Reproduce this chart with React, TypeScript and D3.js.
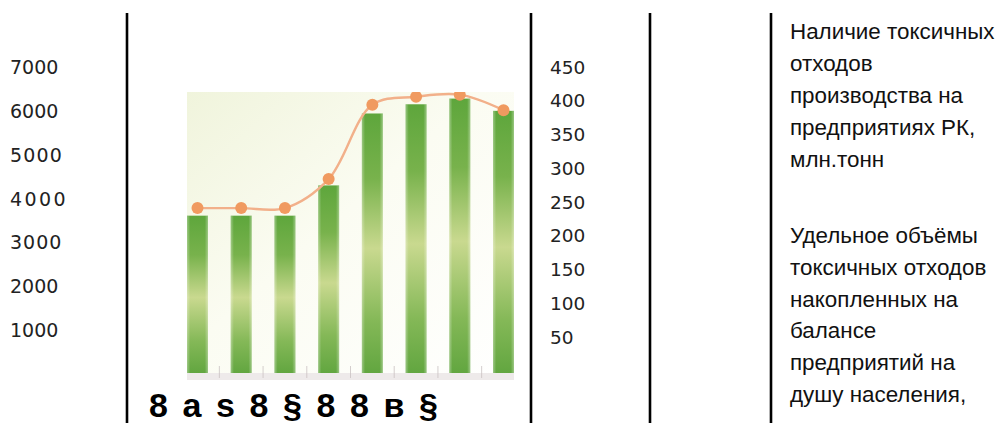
import React from 'react';
import * as d3 from 'd3';

// ---- data ----
const categories = ['c1', 'c2', 'c3', 'c4', 'c5', 'c6', 'c7', 'c8'];
const wasteValues = [3610, 3610, 3610, 4300, 5940, 6150, 6280, 6000];
const perCapitaValues = [241, 241, 241, 284, 394, 406, 409, 386];
const leftTicks = [7000, 6000, 5000, 4000, 3000, 2000, 1000];
const rightTicks = [450, 400, 350, 300, 250, 200, 150, 100, 50];
const xLabelText = '8 a s 8 § 8 8 в §';
const legendTop = ['Наличие токсичных', 'отходов', 'производства на', 'предприятиях РК,', 'млн.тонн'];
const legendBottom = ['Удельное объёмы', 'токсичных отходов', 'накопленных на', 'балансе', 'предприятий на', 'душу населения,'];

// ---- per-label letter spacing (scan artefact) ----
const leftTickSpacing: Record<number, number> = { 5000: 1.2, 4000: 2.4, 3000: 1 };

const W = 1003;
const H = 423;
const plot = { x0: 187, x1: 514, y0: 92, y1: 380 };

export default function App() {
  const x = d3.scaleBand<string>().domain(categories).range([plot.x0, plot.x1]).paddingInner(0.52).paddingOuter(0);
  const yLeft = d3.scaleLinear().domain([0, 7000]).range([374, 67]);
  const yRight = d3.scaleLinear().domain([0, 450]).range([370.75, 67]);

  const line = d3
    .line<number>()
    .x((_, i) => (x(categories[i]) as number) + x.bandwidth() / 2)
    .y((d) => yRight(d))
    .curve(d3.curveCatmullRom.alpha(0.5));

  const gapCenters = categories.slice(0, -1).map((c) => (x(c) as number) + x.bandwidth() + (x.step() - x.bandwidth()) / 2);

  const vLines = [127, 531, 650, 771];
  const tickFont = '"DejaVu Sans", sans-serif';
  const sansFont = '"Liberation Sans", Arial, sans-serif';

  return (
    <svg width={W} height={H} style={{ position: 'absolute', left: 0, top: 0, display: 'block', background: '#fff' }}>
      <defs>
        <linearGradient id="bg" x1="0" y1="0" x2="1" y2="1">
          <stop offset="0" stopColor="#f0f4dc" />
          <stop offset="0.45" stopColor="#fbfcf2" />
          <stop offset="1" stopColor="#ffffff" />
        </linearGradient>
        <linearGradient id="barV" x1="0" y1="0" x2="0" y2="1">
          <stop offset="0" stopColor="#5ea63c" />
          <stop offset="0.25" stopColor="#78b24c" />
          <stop offset="0.52" stopColor="#c9d98f" />
          <stop offset="0.8" stopColor="#84b857" />
          <stop offset="1" stopColor="#62a640" />
        </linearGradient>
        <linearGradient id="barH" x1="0" y1="0" x2="1" y2="0">
          <stop offset="0" stopColor="#ffffff" stopOpacity="0.35" />
          <stop offset="0.15" stopColor="#ffffff" stopOpacity="0" />
          <stop offset="0.85" stopColor="#ffffff" stopOpacity="0" />
          <stop offset="1" stopColor="#ffffff" stopOpacity="0.35" />
        </linearGradient>
        <filter id="soft" x="-20%" y="-20%" width="140%" height="140%">
          <feGaussianBlur stdDeviation="0.6" />
        </filter>
        <clipPath id="plotClip">
          <rect x={plot.x0} y={plot.y0} width={plot.x1 - plot.x0} height={plot.y1 - plot.y0} />
        </clipPath>
      </defs>

      {/* vertical rules */}
      {vLines.map((vx) => (
        <line key={vx} x1={vx} x2={vx} y1={13} y2={H} stroke="#000" strokeWidth={2.6} />
      ))}

      {/* left axis labels */}
      {leftTicks.map((t) => (
        <text
          key={t}
          x={10}
          y={yLeft(t)}
          dominantBaseline="central"
          fontFamily={tickFont}
          fontSize={19}
          letterSpacing={leftTickSpacing[t] || 0}
          fill="#222"
        >
          {t}
        </text>
      ))}

      {/* right axis labels */}
      {rightTicks.map((t) => (
        <text key={t} x={550} y={yRight(t)} dominantBaseline="central" fontFamily={tickFont} fontSize={18.5} fill="#222">
          {t}
        </text>
      ))}

      {/* plot */}
      <g clipPath="url(#plotClip)">
        <rect x={plot.x0} y={plot.y0} width={plot.x1 - plot.x0} height={plot.y1 - plot.y0} fill="url(#bg)" />
        {wasteValues.map((v, i) => {
          const bx = x(categories[i]) as number;
          const by = yLeft(v);
          const bh = 373 - by;
          return (
            <g key={i}>
              <rect x={bx} y={by} width={x.bandwidth()} height={bh} fill="url(#barV)" />
              <rect x={bx} y={by} width={x.bandwidth()} height={bh} fill="url(#barH)" />
            </g>
          );
        })}
        {/* axis strip */}
        <rect x={plot.x0} y={373} width={plot.x1 - plot.x0} height={7} fill="#eeeaea" />
        {gapCenters.map((gx, i) => (
          <line key={i} x1={gx} x2={gx} y1={366} y2={378} stroke="#c9c2c2" strokeWidth={0.8} />
        ))}
        <g filter="url(#soft)">
          <path d={line(perCapitaValues) || ''} fill="none" stroke="#f2b08a" strokeWidth={2.4} />
          {perCapitaValues.map((v, i) => (
            <circle
              key={i}
              cx={(x(categories[i]) as number) + x.bandwidth() / 2}
              cy={yRight(v)}
              r={6}
              fill="#f09a60"
            />
          ))}
        </g>
      </g>

      {/* x labels */}
      <text
        x={149}
        y={417}
        fontFamily={sansFont}
        fontWeight="bold"
        fontSize={34}
        textLength={289}
        lengthAdjust="spacing"
        fill="#000"
      >
        {xLabelText}
      </text>

      {/* legend text */}
      {legendTop.map((s, i) => (
        <text key={'a' + i} x={790} y={39 + i * 32} fontFamily={sansFont} fontSize={22.4} fill="#111">
          {s}
        </text>
      ))}
      {legendBottom.map((s, i) => (
        <text key={'b' + i} x={790} y={243 + i * 31.8} fontFamily={sansFont} fontSize={22.4} fill="#111">
          {s}
        </text>
      ))}
    </svg>
  );
}
